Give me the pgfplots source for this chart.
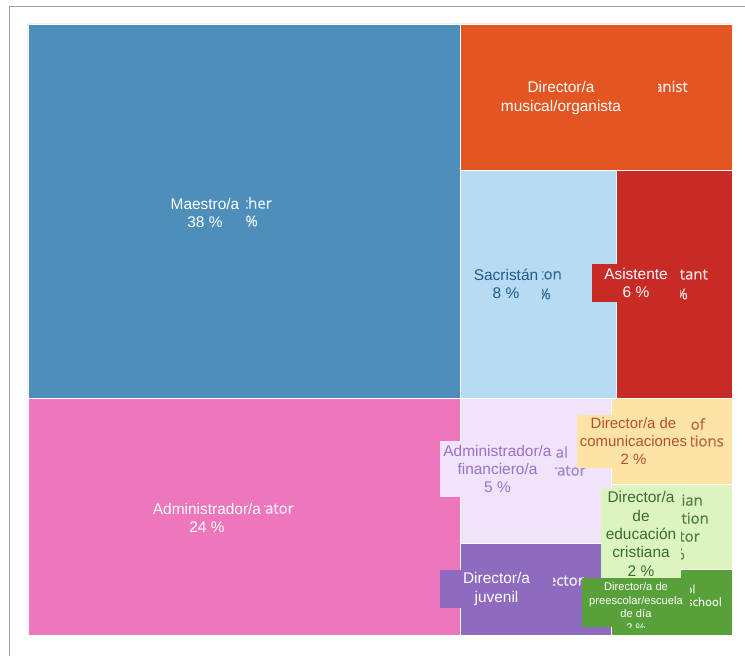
\documentclass[border=0pt]{standalone}
\usepackage{pgfplots}
\pgfplotsset{compat=1.18}
\usepackage{fontspec}
\setmainfont{Liberation Sans}
\newfontfamily\enfont[FakeBold=0.8]{Open Sans}
\definecolor{cMae}{HTML}{4E8EBA}
\definecolor{cAdm}{HTML}{EE76BC}
\definecolor{cMus}{HTML}{E35623}
\definecolor{cSac}{HTML}{B7DBF3}
\definecolor{cAsi}{HTML}{C82B26}
\definecolor{cFin}{HTML}{F1E3FA}
\definecolor{cJuv}{HTML}{8E6BBF}
\definecolor{cCom}{HTML}{FEE3A6}
\definecolor{cEdu}{HTML}{DCF4BE}
\definecolor{cPre}{HTML}{57A03A}
\definecolor{tSac}{HTML}{1F5A8A}
\definecolor{tFin}{HTML}{9A72C8}
\definecolor{tCom}{HTML}{B5502F}
\definecolor{tEdu}{HTML}{3D6B2E}
\tikzset{
  sp/.style={inner sep=0pt, align=center, font=\fontsize{15.5}{18.5}\selectfont},
  en/.style={inner sep=0pt, anchor=east, font=\enfont\fontsize{15}{18.5}\selectfont},
  tile/.style={draw=white, line width=0.8bp}
}
\begin{document}
\begin{tikzpicture}
\useasboundingbox (-28bp,-21bp) rectangle (717bp,635bp);
\draw[gray!75, line width=1bp] (-18bp,-21bp) -- (-18bp,628bp) -- (717bp,628bp);
\begin{axis}[at={(0,0)}, anchor=south west, scale only axis,
  width=704bp, height=611bp, xmin=28, xmax=732, ymin=24, ymax=635,
  y dir=reverse, hide axis, clip=false]
% tiles (pixel coordinates of the treemap)
\addplot[tile, fill=cMae] coordinates {(28,24) (460.5,24) (460.5,398) (28,398) (28,24)};
\addplot[tile, fill=cAdm] coordinates {(28,398) (460.5,398) (460.5,635) (28,635) (28,398)};
\addplot[tile, fill=cMus] coordinates {(460.5,24) (732,24) (732,170.5) (460.5,170.5) (460.5,24)};
\addplot[tile, fill=cSac] coordinates {(460.5,170.5) (616.5,170.5) (616.5,398) (460.5,398) (460.5,170.5)};
\addplot[tile, fill=cAsi] coordinates {(616.5,170.5) (732,170.5) (732,398) (616.5,398) (616.5,170.5)};
\addplot[tile, fill=cFin] coordinates {(460.5,398) (611.5,398) (611.5,543) (460.5,543) (460.5,398)};
\addplot[tile, fill=cJuv] coordinates {(460.5,543) (611.5,543) (611.5,635) (460.5,635) (460.5,543)};
\addplot[tile, fill=cCom] coordinates {(611.5,398) (732,398) (732,484.5) (611.5,484.5) (611.5,398)};
\addplot[tile, fill=cEdu] coordinates {(611.5,484.5) (732,484.5) (732,569) (611.5,569) (611.5,484.5)};
\addplot[tile, fill=cPre] coordinates {(611.5,569) (732,569) (732,635) (611.5,635) (611.5,569)};
% original labels (mostly covered)
\node[en, text=white!85!cMae] at (axis cs:272,203) {Teacher};
\node[en, text=white!85!cMae] at (axis cs:258,221) {38\%};
\node[en, text=white!88!cMus] at (axis cs:688,88) {Music director/organist};
\node[en, text=tSac!85!cSac] at (axis cs:562,274) {Sexton};
\node[en, text=tSac!85!cSac] at (axis cs:551,294) {8\%};
\node[en, text=white!88!cAsi] at (axis cs:708,274) {Assistant};
\node[en, text=white!88!cAsi] at (axis cs:688,294) {6\%};
\node[en, text=white!85!cAdm] at (axis cs:294,508) {Administrator};
\node[en, text=white!85!cAdm] at (axis cs:258,527) {24\%};
\node[en, text=tFin!85!cFin] at (axis cs:568,452) {Financial};
\node[en, text=tFin!85!cFin] at (axis cs:586,470) {administrator};
\node[en, text=white!88!cJuv] at (axis cs:584,580) {Youth director};
\node[en, text=tCom!85!cCom] at (axis cs:705,424) {Director of};
\node[en, text=tCom!85!cCom] at (axis cs:724,441) {communications};
\node[en, text=tEdu!85!cEdu] at (axis cs:703,500) {Christian};
\node[en, text=tEdu!85!cEdu] at (axis cs:709,518) {education};
\node[en, text=tEdu!85!cEdu] at (axis cs:700,536) {director};
\node[en, text=tEdu!85!cEdu] at (axis cs:685,554) {2\%};
\node[en, text=white!88!cPre, font=\enfont\fontsize{11.5}{13.5}\selectfont] at (axis cs:695.5,589) {Preschool};
\node[en, text=white!88!cPre, font=\enfont\fontsize{11.5}{13.5}\selectfont] at (axis cs:722,603) {Day school};
% translated labels
\node[sp, fill=cMae, text=white, minimum width=82bp, minimum height=44bp] at (axis cs:205,213) {Maestro/a\\38 \%};
\node[sp, fill=cMus, text=white, minimum width=194bp, minimum height=44bp] at (axis cs:561,98) {Director/a\\musical/organista};
\node[sp, fill=cSac, text=tSac, minimum width=72bp, minimum height=44bp] at (axis cs:506,284) {Sacristán\\8 \%};
\node[sp, fill=cAsi, text=white, minimum width=88bp, minimum height=38bp] at (axis cs:636,283) {Asistente\\6 \%};
\node[sp, fill=cAdm, text=white, minimum width=114bp, minimum height=44bp] at (axis cs:207,518) {Administrador/a\\24 \%};
\node[sp, fill=cFin, text=tFin, minimum width=115bp, minimum height=56bp] at (axis cs:497.5,469) {Administrador/a\\financiero/a\\5 \%};
\node[sp, fill=cJuv, text=white, minimum width=113bp, minimum height=38bp] at (axis cs:496.5,589) {Director/a\\juvenil};
\node[sp, fill=cCom, text=tCom, minimum width=114bp, minimum height=53bp, font=\fontsize{15}{18}\selectfont] at (axis cs:633.5,441.5) {Director/a de\\comunicaciones\\2 \%};
\node[sp, fill=cEdu, text=tEdu, minimum width=80bp, minimum height=90bp] at (axis cs:641,534) {Director/a\\de\\educación\\cristiana\\2 \%};
\node[sp, fill=cPre, minimum width=108bp, minimum height=49bp] at (axis cs:636,602.5) {};
\begin{scope}
\clip (axis cs:582,578) rectangle (axis cs:690,627);
\node[sp, text=white, font=\fontsize{11.2}{13.4}\selectfont] at (axis cs:636,607) {Director/a de\\preescolar/escuela\\de día\\2 \%};
\end{scope}
\end{axis}
\end{tikzpicture}
\end{document}
